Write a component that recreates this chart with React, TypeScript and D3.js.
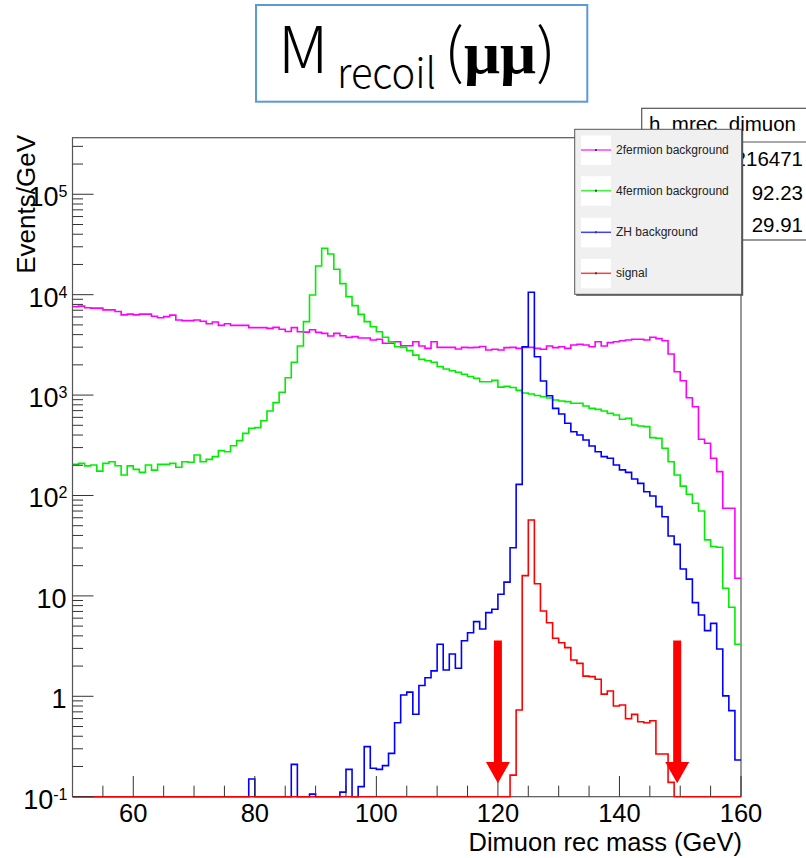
import React from 'react';
import * as d3 from 'd3';

// ---- Data ----
const xMin = 50;
const xMax = 160;
const binWidth = 1;
const yMin = 0.1;
const yMax = 3.66e5;

const seriesNames = ['2fermion background', '4fermion background', 'ZH background', 'signal'];
const seriesColors = ['#ff00ff', '#00ee00', '#0000ff', '#ff0000'];

const twoFermion = [
  7600, 7700, 7400, 7350, 7350, 7050, 7050, 6800, 6300, 6400,
  6300, 6400, 6400, 6100, 5900, 6050, 6250, 5600, 5520, 5520,
  5600, 5430, 5140, 5350, 4950, 5140, 4950, 4950, 4950, 4700,
  4700, 4700, 4620, 4730, 4520, 4300, 4700, 4280, 4240, 4480,
  4210, 4120, 3880, 4120, 3900, 3760, 3820, 3700, 3700, 3540,
  3600, 3280, 3280, 3400, 3100, 3100, 3400, 3080, 2920, 3400,
  2990, 2990, 2990, 2880, 2990, 2970, 2990, 3050, 2810, 2860,
  2810, 2970, 2990, 2920, 2990, 2990, 2920, 2860, 3080, 2970,
  3030, 2920, 3150, 3210, 3150, 3030, 3400, 3080, 3330, 3400,
  3480, 3540, 3600, 3600, 3540, 3770, 3650, 3480, 2570, 1710,
  1390, 942, 766, 363, 331, 235, 173, 74.5, 74.5, 15,
];

const fourFermion = [
  204, 209, 197, 201, 175, 209, 217, 198, 160, 197,
  182, 170, 201, 179, 204, 204, 209, 191, 217, 214,
  253, 217, 229, 244, 280, 273, 313, 352, 416, 467,
  474, 556, 695, 841, 1066, 1490, 2120, 3080, 5390, 9930,
  19300, 29000, 25400, 17900, 12900, 9560, 7780, 6370, 5390, 4800,
  4270, 3770, 3400, 3030, 2990, 2770, 2500, 2270, 2200, 2120,
  1920, 1820, 1750, 1690, 1610, 1530, 1470, 1360, 1360, 1400,
  1200, 1220, 1190, 1115, 1050, 1025, 990, 964, 935, 893,
  873, 860, 828, 828, 778, 738, 721, 695, 658, 633,
  574, 587, 504, 492, 485, 377, 371, 295, 217, 160,
  124, 103, 83.6, 70.1, 36.1, 31, 30.5, 11.9, 7.7, 3.3,
];

const zhBackground = [
  0, 0, 0, 0, 0, 0, 0, 0, 0, 0,
  0, 0, 0, 0, 0, 0, 0, 0, 0, 0,
  0, 0, 0, 0, 0, 0, 0, 0, 0, 0.15,
  0, 0, 0, 0, 0, 0, 0.21, 0, 0, 0.106,
  0, 0, 0, 0, 0.111, 0.187, 0, 0.126, 0.315, 0.192,
  0.187, 0.204, 0.27, 0.546, 1.03, 1.1, 0.662, 1.28, 1.53, 1.79,
  3.3, 1.83, 2.64, 1.9, 3.58, 4.3, 5.54, 4.68, 6.81, 7.35,
  10.4, 13.7, 30.2, 129, 3030, 10570, 2410, 1380, 986, 738,
  648, 524, 432, 401, 357, 311, 273, 244, 235, 201,
  180, 170, 146, 132, 109, 98.8, 77.4, 61.5, 39.5, 32.6,
  18.5, 14.7, 8.57, 6.45, 4.51, 5.33, 2.96, 1.01, 0.72, 0.232,
];

const signal = [
  0, 0, 0, 0, 0, 0, 0, 0, 0, 0,
  0, 0, 0, 0, 0, 0, 0, 0, 0, 0,
  0, 0, 0, 0, 0, 0, 0, 0, 0, 0,
  0, 0, 0, 0, 0, 0, 0, 0, 0, 0,
  0, 0, 0, 0, 0, 0, 0, 0, 0, 0,
  0, 0, 0, 0, 0, 0, 0, 0, 0, 0,
  0, 0, 0, 0, 0, 0, 0, 0, 0, 0,
  0, 0, 0.164, 0.73, 15.9, 57, 13.2, 7.07, 5.41, 3.78,
  3.42, 3.05, 2.3, 2.13, 1.59, 1.57, 1.48, 1.05, 1.13, 0.8,
  0.82, 0.598, 0.661, 0.558, 0.546, 0.571, 0.266, 0.266, 0.139, 0,
  0, 0, 0, 0, 0, 0, 0, 0, 0, 0,
];

const seriesValues = [twoFermion, fourFermion, zhBackground, signal];

const xTickValues = [60, 80, 100, 120, 140, 160];
const yTickExponents = [-1, 0, 1, 2, 3, 4, 5];
const statsTitle = 'h_mrec_dimuon';
const statsValues = ['216471', '92.23', '29.91'];
const arrowX = [120, 149.5];
const arrowTop = 3.6;
const arrowHeadBase = 0.222;
const arrowTip = 0.136;

const FONT = "'Liberation Sans', Arial, sans-serif";

export default function App() {
  const W = 806;
  const H = 858;
  const left = 72.5;
  const right = 741;
  const top = 137.7;
  const bottom = 796.7;

  const x = d3.scaleLinear().domain([xMin, xMax]).range([left, right]);
  const y = d3.scaleLog().domain([yMin, yMax]).range([bottom, top]);

  const line = d3
    .line<[number, number]>()
    .x((d) => x(d[0]))
    .y((d) => y(Math.max(d[1], yMin)))
    .curve(d3.curveStepAfter);

  const pathFor = (vals: number[]) => {
    const pts: [number, number][] = vals.map((v, i) => [xMin + i * binWidth, v]);
    pts.push([xMax, vals[vals.length - 1]]);
    return line(pts) || '';
  };

  const xMinor = d3.range(55, 160, 5).filter((v) => !xTickValues.includes(v));
  const yMinor: number[] = [];
  for (let n = -1; n <= 5; n++) {
    for (let k = 2; k <= 9; k++) {
      const v = k * Math.pow(10, n);
      if (v <= yMax) yMinor.push(v);
    }
  }

  const legendX = 574.7;
  const legendY = 129.3;
  const legendW = 167;
  const legendH = 165;
  const legendRowCenters = [150, 190.7, 232.3, 273.3];

  return (
    <svg
      width={W}
      height={H}
      style={{ position: 'absolute', left: 0, top: 0, background: '#fff' }}
      xmlns="http://www.w3.org/2000/svg"
    >
      <defs>
        <clipPath id="frameClip">
          <rect x={left} y={top} width={right - left} height={bottom - top + 1} />
        </clipPath>
      </defs>
      <rect x={0} y={0} width={W} height={H} fill="#fff" />

      {/* Frame */}
      <rect x={left} y={top} width={right - left} height={bottom - top} fill="none" stroke="#555" strokeWidth={1.2} />

      {/* Histograms */}
      <g clipPath="url(#frameClip)">
        {seriesValues.map((vals, i) => (
          <path key={i} d={pathFor(vals)} fill="none" stroke={seriesColors[i]} strokeWidth={1.6} />
        ))}
      </g>

      {/* Axis ticks */}
      <g stroke="#333" strokeWidth={1}>
        {xTickValues.map((v) => (
          <line key={'xm' + v} x1={x(v)} x2={x(v)} y1={bottom} y2={bottom - 20.7} />
        ))}
        {xMinor.map((v) => (
          <line key={'xn' + v} x1={x(v)} x2={x(v)} y1={bottom} y2={bottom - 11} />
        ))}
        {yTickExponents.map((e) => (
          <line key={'ym' + e} x1={left} x2={left + 21} y1={y(Math.pow(10, e))} y2={y(Math.pow(10, e))} />
        ))}
        {yMinor.map((v) => (
          <line key={'yn' + v} x1={left} x2={left + 10.5} y1={y(v)} y2={y(v)} />
        ))}
      </g>

      {/* Cut arrows */}
      <g fill="#ff0000">
        {arrowX.map((ax) => {
          const cx = x(ax);
          const yT = y(arrowTop);
          const yB = y(arrowHeadBase);
          const yTip = y(arrowTip);
          const pts = [
            [cx - 4, yT],
            [cx + 4, yT],
            [cx + 4, yB],
            [cx + 12, yB],
            [cx, yTip],
            [cx - 12, yB],
            [cx - 4, yB],
          ];
          return <polygon key={ax} points={pts.map((p) => p.join(',')).join(' ')} />;
        })}
      </g>

      {/* X tick labels */}
      <g fontFamily={FONT} fontSize={25.5} fill="#000" textAnchor="middle">
        {xTickValues.map((v) => (
          <text key={'xl' + v} x={x(v)} y={822}>
            {v}
          </text>
        ))}
      </g>

      {/* Y tick labels */}
      <g fontFamily={FONT} fontSize={27} fill="#000" textAnchor="end">
        {yTickExponents.map((e) => {
          const yy = y(Math.pow(10, e)) + 12;
          if (e === 0) return <text key={'yl' + e} x={66.5} y={yy}>1</text>;
          if (e === 1) return <text key={'yl' + e} x={66.5} y={yy}>10</text>;
          return (
            <text key={'yl' + e} x={67.5} y={yy}>
              10
              <tspan fontSize={16} dy={-9}>
                {String(e)}
              </tspan>
            </text>
          );
        })}
      </g>

      {/* Axis titles */}
      <text x={742} y={851} fontFamily={FONT} fontSize={25.5} textAnchor="end" fill="#000">
        Dimuon rec mass (GeV)
      </text>
      <text
        transform="translate(35,135) rotate(-90)"
        fontFamily={FONT}
        fontSize={26}
        textAnchor="end"
        fill="#000"
      >
        Events/GeV
      </text>

      {/* Stats box */}
      <g>
        <rect x={641.7} y={108.3} width={200} height={131.7} fill="#fff" stroke="#555" strokeWidth={1.2} />
        <line x1={641.7} x2={806} y1={142} y2={142} stroke="#555" strokeWidth={1.2} />
        <text x={649} y={130.7} fontFamily={FONT} fontSize={20.5} fill="#000">
          {statsTitle}
        </text>
        {statsValues.map((s, i) => (
          <text
            key={s}
            x={803}
            y={[165.7, 199.7, 231.7][i]}
            fontFamily={FONT}
            fontSize={20.5}
            textAnchor="end"
            fill="#000"
          >
            {s}
          </text>
        ))}
      </g>

      {/* Legend */}
      <g>
        <rect x={legendX + 1.5} y={legendY + 1.5} width={legendW} height={legendH} fill="#555" />
        <rect x={legendX} y={legendY} width={legendW} height={legendH} fill="#f0f0f0" stroke="#555" strokeWidth={1} />
        {seriesNames.map((name, i) => {
          const cy = legendRowCenters[i];
          return (
            <g key={name}>
              <rect x={581} y={cy - 14.5} width={30} height={29.5} fill="#fff" />
              <line x1={581} x2={611} y1={cy} y2={cy} stroke={seriesColors[i]} strokeWidth={1.5} opacity={0.75} />
              <rect x={595} y={cy - 1} width={2} height={2} fill="#444" />
              <text x={616} y={cy + 4} fontFamily={FONT} fontSize={12} fill="#222">
                {name}
              </text>
            </g>
          );
        })}
      </g>

      {/* Title */}
      <g>
        <rect x={256} y={5} width={331.3} height={96.7} fill="#fff" stroke="#5b9bd5" strokeWidth={2} />
        <text x={278} y={72.7} fontFamily="'Noto Sans CJK JP', 'Noto Sans', sans-serif" fontWeight={300} fontSize={64} fill="#000">
          M
        </text>
        <text
          x={337}
          y={88.3}
          fontFamily="'Noto Sans CJK JP', 'Noto Sans', sans-serif"
          fontWeight={300}
          fontSize={42}
          fill="#000"
          textLength={99}
          lengthAdjust="spacingAndGlyphs"
        >
          recoil
        </text>
        <text
          x={444}
          y={72.7}
          fontFamily="'Noto Sans CJK JP', 'Noto Sans', sans-serif"
          fontWeight={300}
          fontSize={60}
          fill="#000"
          textLength={112}
          lengthAdjust="spacingAndGlyphs"
        >
          (<tspan fontFamily="'Liberation Serif', serif" fontWeight={700}>μμ</tspan>)
        </text>
      </g>
    </svg>
  );
}
